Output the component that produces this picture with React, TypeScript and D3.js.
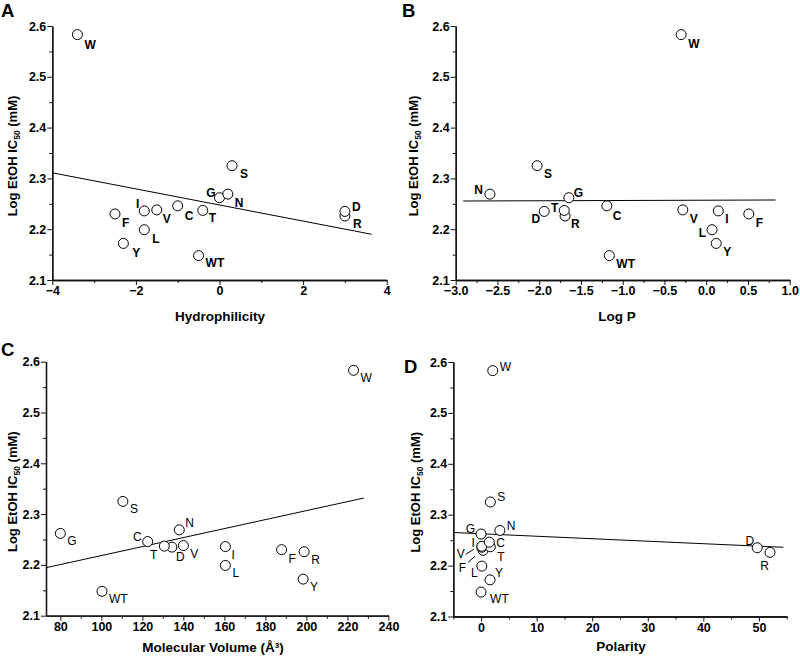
import { useEffect, useRef } from "react";
import { scaleLinear, select, axisBottom, axisLeft, format } from "d3";

// residues at the mutated position, same order in every array
const residues = ["W", "S", "G", "N", "D", "R", "I", "V", "C", "T", "F", "L", "Y", "WT"];
const logIC50 = [2.583, 2.325, 2.262, 2.269, 2.235, 2.226, 2.236, 2.238, 2.246, 2.237, 2.23, 2.199, 2.172, 2.148];
const hydrophilicity = [-3.4, 0.3, 0, 0.2, 3.0, 3.0, -1.8, -1.5, -1.0, -0.4, -2.5, -1.8, -2.3, -0.5];
const logP = [-0.3, -2.025, -1.645, -2.59, -1.94, -1.69, 0.145, -0.28, -1.19, -1.7, 0.51, 0.07, 0.12, -1.16];
const molVolume = [223, 110.5, 80, 138, 134.4, 198.9, 160.5, 140, 122.6, 130.7, 187.9, 160.5, 198.4, 100.3];
const polarity = [2.1, 1.67, 0, 3.38, 49.7, 52, 0.13, 0.13, 1.48, 1.66, 0.35, 0.13, 1.61, 0];

// regression line end points [x, y]
const fitA = [[-4, 2.311], [3.64, 2.19]];
const fitB = [[-2.91, 2.2555], [0.83, 2.2575]];
const fitC = [[73, 2.1945], [228, 2.3316]];
const fitD = [[-5, 2.265], [54.4, 2.236]];

const yTicks = [2.1, 2.2, 2.3, 2.4, 2.5, 2.6];
const yMinor = [2.15, 2.25, 2.35, 2.45, 2.55];
const xTicksA = [-4, -2, 0, 2, 4];
const xMinorA = [-3, -1, 1, 3];
const xTicksB = [-3, -2.5, -2, -1.5, -1, -0.5, 0, 0.5, 1];
const xMinorB = [-2.75, -2.25, -1.75, -1.25, -0.75, -0.25, 0.25, 0.75];
const xTicksC = [80, 100, 120, 140, 160, 180, 200, 220, 240];
const xMinorC = [90, 110, 130, 150, 170, 190, 210, 230];
const xTicksD = [0, 10, 20, 30, 40, 50];
const xMinorD = [-5, 5, 15, 25, 35, 45, 55];

const font = "'Liberation Sans', Arial, Helvetica, sans-serif";

type Lab = [number, number, string?];
// label placement relative to the point: dx, dy, anchor
const labelsA: Record<string, Lab> = {
  W: [7, 14], S: [8, 12], G: [-4, -1, "end"], N: [7, 13], D: [7, 0], R: [8, 12],
  I: [-5, -3, "end"], V: [6, 13], C: [7, 14], T: [6, 12], F: [7, 13], L: [8, 13],
  Y: [9, 14], WT: [7, 11],
};
const labelsB: Record<string, Lab> = {
  W: [7, 13], S: [7, 12], N: [-7, 0, "end"], G: [5, -1], T: [-6, 2, "end"], D: [-4, 12, "end"],
  R: [6, 12], C: [6, 14], WT: [7, 12], V: [7, 13], I: [7, 12], F: [7, 13],
  L: [-6, 7, "end"], Y: [7, 13],
};
const labelsC: Record<string, Lab> = {
  W: [7, 12], S: [7, 12], G: [7, 12], N: [6, -3], C: [-6, -1, "end"], T: [-7, 13, "end"],
  D: [4, 14], V: [7, 12], I: [6, 12], L: [7, 12], F: [7, 13], R: [7, 12], Y: [7, 12],
  WT: [7, 12],
};
const labelsD: Record<string, Lab> = {
  W: [7, 0], S: [7, -1], N: [7, 0], G: [-6, -1, "end"], I: [-7, 0, "end"], C: [7, 5],
  T: [7, 14], V: [-17, 12, "end"], F: [-17, 22, "end"], L: [-4, 11, "end"], Y: [5, -3],
  WT: [9, 11], D: [-3, -3, "end"], R: [-1, 18, "end"],
};
// short leader lines (from, to) relative to the point
const leadersD: Record<string, number[]> = {
  V: [-16, 8, -8, 3],
  F: [-15, 12, -8, 6],
};

type PanelCfg = {
  letter: string;
  letterX: number;
  letterY: number;
  xs: number[];
  fit: number[][];
  xDomain: number[];
  left: number;
  right: number;
  top: number;
  bottom: number;
  xTicks: number[];
  xMinor: number[];
  xFmt: (v: number) => string;
  xTitle: string;
  titleX: number;
  titleY: number;
  labels: Record<string, Lab>;
  bold: boolean;
  leaders?: Record<string, number[]>;
};

const panels: PanelCfg[] = [
  {
    letter: "A", letterX: 1, letterY: 17, xs: hydrophilicity, fit: fitA, xDomain: [-4, 4],
    left: 52.3, right: 386.7, top: 26, bottom: 280, xTicks: xTicksA, xMinor: xMinorA,
    xFmt: format("d"), xTitle: "Hydrophilicity", titleX: 220, titleY: 321, labels: labelsA, bold: true,
  },
  {
    letter: "B", letterX: 402, letterY: 17, xs: logP, fit: fitB, xDomain: [-3, 1],
    left: 455.7, right: 789.7, top: 26, bottom: 280, xTicks: xTicksB, xMinor: xMinorB,
    xFmt: format(".1f"), xTitle: "Log P", titleX: 617, titleY: 321, labels: labelsB, bold: true,
  },
  {
    letter: "C", letterX: 1, letterY: 356, xs: molVolume, fit: fitC, xDomain: [73, 240],
    left: 46, right: 388.4, top: 361.7, bottom: 615.7, xTicks: xTicksC, xMinor: xMinorC,
    xFmt: format("d"), xTitle: "Molecular Volume (Å³)", titleX: 213, titleY: 652, labels: labelsC, bold: false,
  },
  {
    letter: "D", letterX: 404, letterY: 373, xs: polarity, fit: fitD, xDomain: [-5, 55],
    left: 453.3, right: 786.7, top: 362, bottom: 616.5, xTicks: xTicksD, xMinor: xMinorD,
    xFmt: format("d"), xTitle: "Polarity", titleX: 621, titleY: 651, labels: labelsD, bold: false,
    leaders: leadersD,
  },
];

function Panel({ p }: { p: PanelCfg }) {
  const ref = useRef<SVGGElement>(null);
  const x = scaleLinear().domain(p.xDomain).range([p.left, p.right]);
  const y = scaleLinear().domain([2.1, 2.6]).range([p.bottom, p.top]);

  useEffect(() => {
    const g = select(ref.current);
    g.selectAll("*").remove();

    g.append("g")
      .attr("transform", `translate(0,${p.bottom})`)
      .call(axisBottom(x).tickValues(p.xMinor).tickSize(3).tickSizeOuter(0).tickFormat(() => ""));
    const xa = g.append("g")
      .attr("transform", `translate(0,${p.bottom})`)
      .call(axisBottom(x).tickValues(p.xTicks).tickSize(5).tickSizeOuter(0).tickFormat((d) => p.xFmt(+d)));
    xa.selectAll("text").attr("y", 6.5).attr("dy", "0.71em");

    g.append("g")
      .attr("transform", `translate(${p.left},0)`)
      .call(axisLeft(y).tickValues(yMinor).tickSize(3).tickSizeOuter(0).tickFormat(() => ""));
    const ya = g.append("g")
      .attr("transform", `translate(${p.left},0)`)
      .call(axisLeft(y).tickValues(yTicks).tickSize(5).tickSizeOuter(0).tickFormat(format(".1f")));
    ya.selectAll("text").attr("x", -6).attr("dy", "0.32em");

    g.selectAll("path.domain").attr("stroke", "#111").attr("stroke-width", 1.3);
    g.selectAll(".tick line").attr("stroke", "#111").attr("stroke-width", 1);
    g.selectAll(".tick text")
      .attr("fill", "#000")
      .attr("font-family", font)
      .attr("font-weight", "bold")
      .attr("font-size", 12.5);
  }, []);

  const pts = residues
    .map((r, i) => ({ r, xv: p.xs[i], yv: logIC50[i] }))
    .sort((a, b) => a.yv - b.yv);

  const midY = (p.top + p.bottom) / 2 + 3;

  return (
    <g>
      <text x={p.letterX} y={p.letterY} fontFamily={font} fontWeight="bold" fontSize={18.5}>
        {p.letter}
      </text>
      <g ref={ref} />
      <line
        x1={x(p.fit[0][0])}
        y1={y(p.fit[0][1])}
        x2={x(p.fit[1][0])}
        y2={y(p.fit[1][1])}
        stroke="#000"
        strokeWidth={1}
      />
      {pts.map((d) => {
        const cx = x(d.xv);
        const cy = y(d.yv);
        const lab = p.labels[d.r];
        const lead = p.leaders ? p.leaders[d.r] : undefined;
        return (
          <g key={d.r}>
            <circle cx={cx} cy={cy} r={5} fill="#fff" stroke="#000" strokeWidth={1} />
            {lead && (
              <line x1={cx + lead[0]} y1={cy + lead[1]} x2={cx + lead[2]} y2={cy + lead[3]} stroke="#000" strokeWidth={1} />
            )}
            <text
              x={cx + lab[0]}
              y={cy + lab[1]}
              textAnchor={lab[2] || "start"}
              fontFamily={font}
              fontWeight={p.bold ? "bold" : "normal"}
              fontSize={12}
            >
              {d.r}
            </text>
          </g>
        );
      })}
      <text x={p.titleX} y={p.titleY} textAnchor="middle" fontFamily={font} fontWeight="bold" fontSize={13.5}>
        {p.xTitle}
      </text>
      <text
        transform={`translate(${p.letterX + 16},${midY}) rotate(-90)`}
        textAnchor="middle"
        fontFamily={font}
        fontWeight="bold"
        fontSize={13}
      >
        Log EtOH IC<tspan fontSize={8.5} dy={3}>50</tspan>
        <tspan dy={-3}> (mM)</tspan>
      </text>
    </g>
  );
}

export default function App() {
  return (
    <svg width={800} height={658} style={{ position: "absolute", left: 0, top: 0, background: "#fff" }}>
      {panels.map((p) => (
        <Panel key={p.letter} p={p} />
      ))}
    </svg>
  );
}
